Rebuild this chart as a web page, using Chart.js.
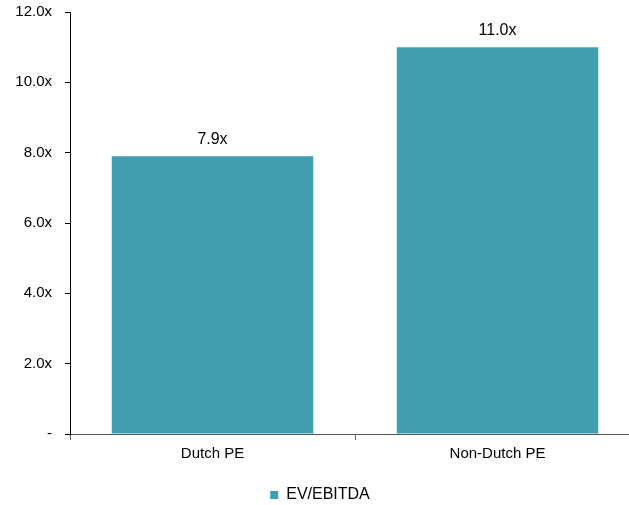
<!DOCTYPE html>
<html>
<head>
<meta charset="utf-8">
<script src="https://cdn.jsdelivr.net/npm/chart.js@4/dist/chart.umd.min.js"></script>
<style>
  html, body { margin: 0; padding: 0; overflow: hidden; background: #fff; }
  #wrap { width: 640px; height: 505px; }
</style>
</head>
<body>
<div id="wrap"><canvas id="myChart"></canvas></div>
<script>
// data
var categories = ['Dutch PE', 'Non-Dutch PE'];
var evEbitda = [7.9, 11.0];
var seriesName = 'EV/EBITDA';
var yTicks = [0, 2, 4, 6, 8, 10, 12];

var barColor = '#419EAF';

// labels "7.9x" above each bar
var valueLabels = {
  id: 'valueLabels',
  afterDatasetsDraw: function (chart) {
    var ctx = chart.ctx;
    var meta = chart.getDatasetMeta(0);
    ctx.save();
    ctx.font = '16px "Liberation Sans", Arial, sans-serif';
    ctx.fillStyle = '#000';
    ctx.textAlign = 'center';
    ctx.textBaseline = 'alphabetic';
    meta.data.forEach(function (bar, i) {
      ctx.fillText(evEbitda[i].toFixed(1) + 'x', bar.x, bar.y - 12);
    });
    ctx.restore();
  }
};

var ctx = document.getElementById('myChart').getContext('2d');
var myChart = new Chart(ctx, {
  type: 'bar',
  data: {
    labels: categories,
    datasets: [{
      label: seriesName,
      data: evEbitda,
      backgroundColor: barColor,
      borderWidth: 0,
      categoryPercentage: 1,
      barPercentage: 0.707
    }]
  },
  options: {
    responsive: true,
    maintainAspectRatio: false,
    animation: false,
    layout: { padding: { top: 12, right: 0, bottom: -8, left: 0 } },
    plugins: {
      tooltip: { enabled: false },
      legend: {
        position: 'bottom',
        labels: {
          boxWidth: 8,
          boxHeight: 8,
          padding: 4,
          color: '#000',
          font: { family: '"Liberation Sans", Arial, sans-serif', size: 16 }
        }
      }
    },
    scales: {
      x: {
        offset: true,
        grid: {
          offset: true,
          drawOnChartArea: false,
          drawTicks: true,
          tickLength: 6,
          color: '#666'
        },
        border: { display: true, color: '#555', width: 1 },
        ticks: {
          color: '#000',
          padding: 5,
          font: { family: '"Liberation Sans", Arial, sans-serif', size: 15 }
        },
        afterFit: function (scale) { scale.height = 49; }
      },
      y: {
        min: 0,
        max: 12,
        afterBuildTicks: function (scale) {
          scale.ticks = yTicks.map(function (v) { return { value: v }; });
        },
        grid: {
          drawOnChartArea: false,
          drawTicks: true,
          tickLength: 5,
          color: '#000'
        },
        border: { display: true, color: '#000', width: 1 },
        ticks: {
          color: '#000',
          padding: 13,
          font: { family: '"Liberation Sans", Arial, sans-serif', size: 15 },
          callback: function (v) { return v === 0 ? '-' : v.toFixed(1) + 'x'; }
        },
        afterFit: function (scale) {
          scale.width = 70;
          scale.paddingTop = 0;
          scale.paddingBottom = 0;
        }
      }
    }
  },
  plugins: [valueLabels]
});
</script>
</body>
</html>
